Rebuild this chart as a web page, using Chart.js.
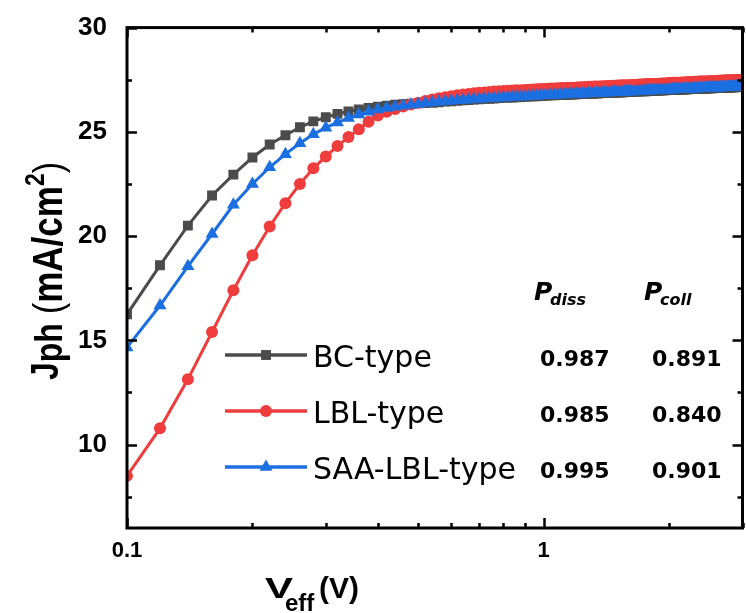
<!DOCTYPE html>
<html>
<head>
<meta charset="utf-8">
<script src="https://cdn.jsdelivr.net/npm/chart.js@4.4.1/dist/chart.umd.min.js"></script>
<style>
  html, body { margin: 0; padding: 0; background: #fff; overflow: hidden; }
  #wrap { width: 750px; height: 613px; }
</style>
</head>
<body>
<div id="wrap"><canvas id="grafico" width="750" height="613"></canvas></div>
<script>
// Tensão efetiva (V), passo de 0.02 V
const veff = [
  0.10, 0.12, 0.14, 0.16, 0.18, 0.20, 0.22, 0.24, 0.26, 0.28,
  0.30, 0.32, 0.34, 0.36, 0.38, 0.40, 0.42, 0.44, 0.46, 0.48,
  0.50, 0.52, 0.54, 0.56, 0.58, 0.60, 0.62, 0.64, 0.66, 0.68,
  0.70, 0.72, 0.74, 0.76, 0.78, 0.80, 0.82, 0.84, 0.86, 0.88,
  0.90, 0.92, 0.94, 0.96, 0.98, 1.00, 1.02, 1.04, 1.06, 1.08,
  1.10, 1.12, 1.14, 1.16, 1.18, 1.20, 1.22, 1.24, 1.26, 1.28,
  1.30, 1.32, 1.34, 1.36, 1.38, 1.40, 1.42, 1.44, 1.46, 1.48,
  1.50, 1.52, 1.54, 1.56, 1.58, 1.60, 1.62, 1.64, 1.66, 1.68,
  1.70, 1.72, 1.74, 1.76, 1.78, 1.80, 1.82, 1.84, 1.86, 1.88,
  1.90, 1.92, 1.94, 1.96, 1.98, 2.00, 2.02, 2.04, 2.06, 2.08,
  2.10, 2.12, 2.14, 2.16, 2.18, 2.20, 2.22, 2.24, 2.26, 2.28,
  2.30, 2.32, 2.34, 2.36, 2.38, 2.40, 2.42, 2.44, 2.46, 2.48,
  2.50, 2.52, 2.54, 2.56, 2.58, 2.60, 2.62, 2.64, 2.66, 2.68,
  2.70, 2.72, 2.74, 2.76, 2.78, 2.80, 2.82, 2.84, 2.86, 2.88,
  2.90, 2.92, 2.94, 2.96, 2.98, 3.00
];

// Jph (mA/cm2) - BC-type
const jphBC = [
  16.25, 18.60, 20.50, 21.95, 22.95, 23.77, 24.39, 24.84, 25.22, 25.50,
  25.70, 25.86, 25.98, 26.07, 26.15, 26.21, 26.26, 26.30, 26.33, 26.35,
  26.37, 26.38, 26.39, 26.42, 26.45, 26.47, 26.49, 26.51, 26.53, 26.55,
  26.56, 26.58, 26.59, 26.60, 26.62, 26.63, 26.64, 26.65, 26.66, 26.67,
  26.68, 26.69, 26.70, 26.71, 26.72, 26.73, 26.74, 26.75, 26.75, 26.76,
  26.77, 26.77, 26.78, 26.79, 26.79, 26.80, 26.81, 26.81, 26.82, 26.83,
  26.83, 26.84, 26.84, 26.85, 26.86, 26.86, 26.87, 26.87, 26.88, 26.88,
  26.89, 26.89, 26.90, 26.90, 26.91, 26.91, 26.92, 26.92, 26.93, 26.93,
  26.94, 26.94, 26.95, 26.95, 26.96, 26.96, 26.96, 26.97, 26.97, 26.98,
  26.98, 26.99, 26.99, 26.99, 27.00, 27.00, 27.00, 27.01, 27.01, 27.02,
  27.02, 27.02, 27.03, 27.03, 27.03, 27.04, 27.04, 27.05, 27.05, 27.05,
  27.06, 27.06, 27.06, 27.07, 27.07, 27.07, 27.08, 27.08, 27.08, 27.09,
  27.09, 27.09, 27.09, 27.10, 27.10, 27.10, 27.11, 27.11, 27.11, 27.12,
  27.12, 27.12, 27.12, 27.13, 27.13, 27.13, 27.14, 27.14, 27.14, 27.14,
  27.15, 27.15, 27.15, 27.15, 27.16, 27.16
];

// Jph (mA/cm2) - LBL-type
const jphLBL = [
   8.50, 10.78, 13.13, 15.40, 17.40, 19.08, 20.46, 21.58, 22.50, 23.25,
  23.82, 24.32, 24.75, 25.12, 25.48, 25.78, 25.96, 26.10, 26.21, 26.31,
  26.40, 26.48, 26.55, 26.61, 26.66, 26.71, 26.75, 26.79, 26.82, 26.85,
  26.87, 26.89, 26.91, 26.93, 26.95, 26.96, 26.97, 26.98, 26.99, 27.00,
  27.01, 27.02, 27.03, 27.04, 27.05, 27.06, 27.07, 27.08, 27.08, 27.09,
  27.10, 27.10, 27.11, 27.12, 27.12, 27.13, 27.14, 27.14, 27.15, 27.16,
  27.16, 27.17, 27.17, 27.18, 27.19, 27.19, 27.20, 27.20, 27.21, 27.21,
  27.22, 27.22, 27.23, 27.23, 27.24, 27.24, 27.25, 27.25, 27.26, 27.26,
  27.27, 27.27, 27.28, 27.28, 27.29, 27.29, 27.29, 27.30, 27.30, 27.31,
  27.31, 27.32, 27.32, 27.32, 27.33, 27.34, 27.34, 27.35, 27.35, 27.36,
  27.36, 27.36, 27.37, 27.37, 27.37, 27.38, 27.38, 27.39, 27.39, 27.39,
  27.40, 27.40, 27.40, 27.41, 27.41, 27.41, 27.42, 27.42, 27.42, 27.43,
  27.43, 27.43, 27.43, 27.44, 27.44, 27.44, 27.45, 27.45, 27.45, 27.46,
  27.46, 27.46, 27.46, 27.47, 27.47, 27.47, 27.48, 27.48, 27.48, 27.48,
  27.49, 27.49, 27.49, 27.49, 27.50, 27.50
];

// Jph (mA/cm2) - SAA-LBL-type
const jphSAA = [
  14.66, 16.67, 18.55, 20.10, 21.50, 22.50, 23.30, 23.93, 24.45, 24.88,
  25.20, 25.45, 25.66, 25.83, 25.97, 26.07, 26.14, 26.20, 26.25, 26.30,
  26.34, 26.38, 26.41, 26.44, 26.47, 26.49, 26.51, 26.53, 26.55, 26.57,
  26.58, 26.60, 26.61, 26.62, 26.64, 26.65, 26.66, 26.67, 26.68, 26.69,
  26.70, 26.71, 26.72, 26.73, 26.74, 26.75, 26.76, 26.77, 26.77, 26.78,
  26.79, 26.79, 26.80, 26.81, 26.81, 26.82, 26.83, 26.83, 26.84, 26.85,
  26.85, 26.86, 26.86, 26.87, 26.88, 26.88, 26.89, 26.89, 26.90, 26.90,
  26.91, 26.91, 26.92, 26.92, 26.93, 26.93, 26.94, 26.94, 26.95, 26.95,
  26.96, 26.96, 26.97, 26.97, 26.98, 26.98, 26.98, 26.99, 26.99, 27.00,
  27.00, 27.01, 27.01, 27.01, 27.02, 27.02, 27.02, 27.03, 27.03, 27.04,
  27.04, 27.04, 27.05, 27.05, 27.05, 27.06, 27.06, 27.07, 27.07, 27.07,
  27.08, 27.08, 27.08, 27.09, 27.09, 27.09, 27.10, 27.10, 27.10, 27.11,
  27.11, 27.11, 27.11, 27.12, 27.12, 27.12, 27.13, 27.13, 27.13, 27.14,
  27.14, 27.14, 27.14, 27.15, 27.15, 27.15, 27.16, 27.16, 27.16, 27.16,
  27.17, 27.17, 27.17, 27.17, 27.18, 27.18
];

const nomes = ['BC-type', 'LBL-type', 'SAA-LBL-type'];
const pDiss = ['0.987', '0.985', '0.995'];
const pColl = ['0.891', '0.840', '0.901'];

// marcas dos eixos
const ticksX = [0.1, 0.2, 0.3, 0.4, 0.5, 0.6, 0.7, 0.8, 0.9, 1, 2, 3];
const rotulosX = { '0.1': '0.1', '1': '1' };
const ticksY = [7.5, 10, 12.5, 15, 17.5, 20, 22.5, 25, 27.5, 30];

const cores = ['#4b4b4b', '#ef3c3c', '#1b6fe0'];
const estilos = ['rect', 'circle', 'triangle'];
const raios = [7, 6, 7.5];

const fonteArial = '"Liberation Sans", Arial, sans-serif';
const fonteVerdana = '"DejaVu Sans", Verdana, sans-serif';

function pontos(ys) {
  return veff.map((v, i) => ({ x: v, y: ys[i] }));
}

// moldura, ticks para dentro, títulos e legenda com a tabela
const extras = {
  id: 'extras',
  afterDatasetsDraw(chart) {
    const { ctx, chartArea: a, scales: { x, y } } = chart;
    ctx.save();
    ctx.strokeStyle = '#000';
    ctx.lineWidth = 2.5;
    ctx.beginPath();
    ticksY.forEach(v => {
      const py = Math.round(y.getPixelForValue(v)) + 0.5;
      const len = v % 5 === 0 ? 10 : 5;
      ctx.moveTo(a.left, py); ctx.lineTo(a.left + len, py);
      ctx.moveTo(a.right, py); ctx.lineTo(a.right - len, py);
    });
    ticksX.forEach(v => {
      const px = Math.round(x.getPixelForValue(v)) + 0.5;
      const len = (v === 1 || v === 0.1) ? 10 : 5;
      ctx.moveTo(px, a.bottom); ctx.lineTo(px, a.bottom - len);
      ctx.moveTo(px, a.top); ctx.lineTo(px, a.top + len);
    });
    ctx.stroke();
    ctx.lineWidth = 3;
    ctx.strokeRect(a.left, a.top, a.right - a.left, a.bottom - a.top);
    ctx.restore();
  },
  afterDraw(chart) {
    const ctx = chart.ctx;
    ctx.save();
    ctx.fillStyle = '#000';
    ctx.textBaseline = 'alphabetic';
    ctx.textAlign = 'left';

    // título do eixo y: Jph (mA/cm2)
    ctx.save();
    ctx.translate(62, 380);
    ctx.rotate(-Math.PI / 2);
    ctx.scale(1, 1.2);
    let cx = 0;
    const parte = (t, font, dy) => {
      ctx.font = font;
      ctx.fillText(t, cx, dy);
      cx += ctx.measureText(t).width;
    };
    parte('J', 'bold 32px ' + fonteArial, -3);
    parte('ph', 'bold 32px ' + fonteArial, 0);
    cx += 9;
    parte('(', '34px ' + fonteArial, 0);
    parte('mA/cm', 'bold 35px ' + fonteArial, 0);
    parte('2', 'bold 23px ' + fonteArial, -15);
    parte(')', '34px ' + fonteArial, 0);
    ctx.restore();

    // título do eixo x: Veff (V)
    ctx.save();
    ctx.translate(265, 598);
    ctx.scale(1.4, 1);
    ctx.font = 'bold 30px ' + fonteArial;
    ctx.fillText('V', 0, 0);
    ctx.restore();
    ctx.font = 'bold 24px ' + fonteArial;
    ctx.fillText('eff', 285, 611);
    ctx.font = 'bold 30px ' + fonteArial;
    ctx.fillText('(V)', 319, 598);

    // legenda
    const linhasY = [355, 411, 467];
    chart.data.datasets.forEach((ds, i) => {
      const ly = linhasY[i];
      ctx.strokeStyle = cores[i];
      ctx.fillStyle = cores[i];
      ctx.lineWidth = 3.5;
      ctx.beginPath();
      ctx.moveTo(225, ly);
      ctx.lineTo(307, ly);
      ctx.stroke();
      Chart.helpers.drawPoint(ctx, {
        pointStyle: estilos[i], radius: raios[i], rotation: 0, borderWidth: 0
      }, 266, ly);
      ctx.fillStyle = '#000';
      ctx.font = '30px ' + fonteVerdana;
      ctx.fillText(nomes[i], 313, ly + 12);
      ctx.font = 'bold 22px ' + fonteVerdana;
      ctx.fillText(pDiss[i], 540, ly + 11);
      ctx.fillText(pColl[i], 652, ly + 11);
    });

    // cabeçalho da tabela
    ctx.fillStyle = '#000';
    ctx.font = 'italic bold 25px ' + fonteVerdana;
    ctx.fillText('P', 534, 300);
    ctx.fillText('P', 644, 300);
    ctx.font = 'italic bold 16px ' + fonteVerdana;
    ctx.fillText('diss', 550, 305);
    ctx.fillText('coll', 660, 305);
    ctx.restore();
  }
};

const ctx = document.getElementById('grafico').getContext('2d');
const grafico = new Chart(ctx, {
  type: 'line',
  data: {
    datasets: [jphBC, jphLBL, jphSAA].map((ys, i) => ({
      label: nomes[i],
      data: pontos(ys),
      borderColor: cores[i],
      backgroundColor: cores[i],
      borderWidth: 3,
      pointStyle: estilos[i],
      pointRadius: raios[i],
      pointBorderWidth: 0,
      pointHoverRadius: raios[i],
      tension: 0,
      order: 2 - i // SAA por cima, depois LBL, BC por baixo
    }))
  },
  options: {
    responsive: false,
    animation: false,
    events: [],
    layout: { padding: { top: 25, right: 1, left: 0, bottom: 0 } },
    plugins: {
      legend: { display: false },
      tooltip: { enabled: false }
    },
    scales: {
      x: {
        type: 'logarithmic',
        min: 0.1,
        max: 3,
        grid: { display: false },
        border: { display: false },
        afterBuildTicks: s => { s.ticks = ticksX.map(v => ({ value: v })); },
        afterFit: s => { s.height = 85; },
        ticks: {
          autoSkip: false,
          maxRotation: 0,
          padding: 2,
          color: '#000',
          font: { family: fonteArial, size: 22, weight: 'bold' },
          callback: v => rotulosX[String(v)] || ''
        }
      },
      y: {
        type: 'linear',
        min: 6,
        max: 30,
        grid: { display: false },
        border: { display: false },
        afterBuildTicks: s => { s.ticks = ticksY.map(v => ({ value: v })); },
        afterFit: s => { s.width = 127; },
        ticks: {
          autoSkip: false,
          padding: 12,
          color: '#000',
          font: { family: fonteArial, size: 26, weight: 'bold' },
          callback: v => (v % 5 === 0 ? String(v) : '')
        }
      }
    }
  },
  plugins: [extras]
});
</script>
</body>
</html>
